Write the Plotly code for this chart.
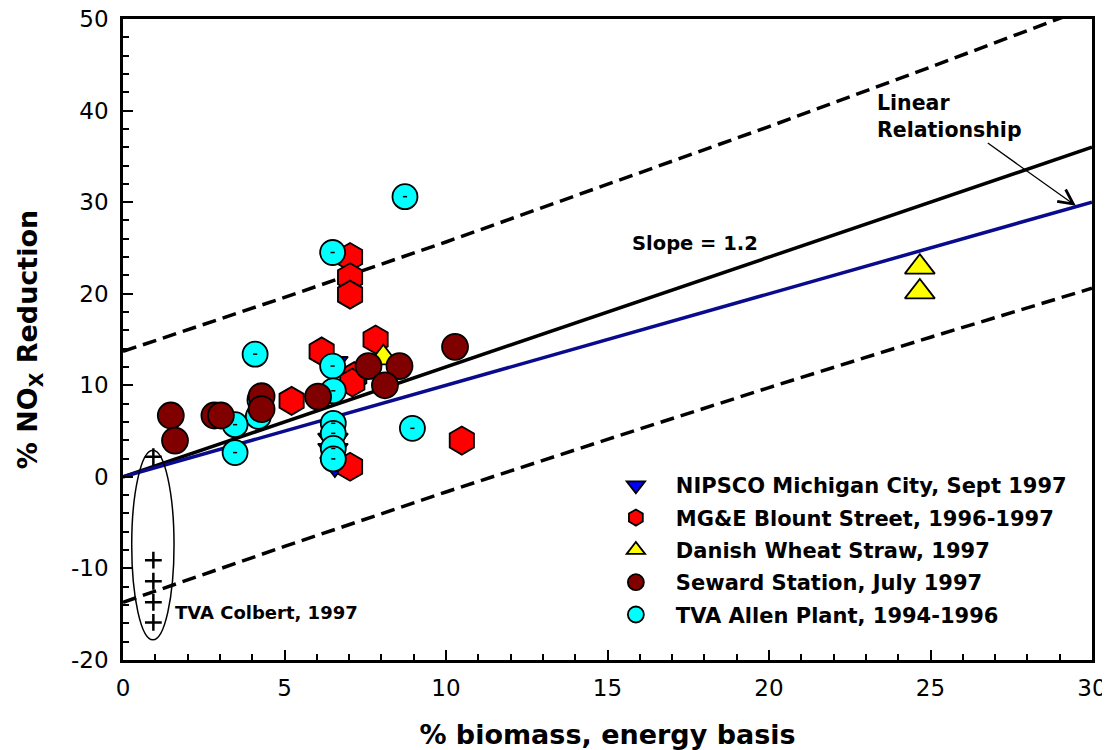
import plotly.graph_objects as go

# ---------------- data ----------------
nipsco_x = [6.50, 6.50, 6.50, 6.56]
nipsco_y = [12.4, 4.0, 2.9, 1.4]

mge_x = [7.03, 7.03, 7.03, 6.15, 7.82, 7.16, 7.10, 5.22, 10.49, 7.03]
mge_y = [24.0, 21.8, 19.9, 13.7, 15.0, 11.0, 10.3, 8.3, 3.96, 1.1]

danish_x = [24.67, 24.67, 8.06]
danish_y = [22.9, 20.2, 13.0]

seward_x = [1.48, 1.61, 2.83, 3.03, 4.29, 4.29, 6.04, 7.60, 8.56, 8.11, 10.28]
seward_y = [6.7, 3.96, 6.7, 6.7, 8.8, 7.4, 8.76, 12.1, 12.1, 10.0, 14.2]

allen_x = [8.73, 6.49, 4.09, 6.49, 6.51, 4.24, 4.19, 3.47, 3.47, 6.51, 6.51, 6.51, 6.51, 8.96]
allen_y = [30.6, 24.5, 13.4, 12.1, 9.4, 8.4, 6.6, 5.7, 2.65, 5.85, 4.75, 3.1, 1.96, 5.3]

colbert_x = [0.94, 0.94, 0.94, 0.94, 0.94]
colbert_y = [2.2, -9.1, -11.4, -13.7, -15.9]

fit_x = [0, 30]
fit_y = [0, 36]          # slope = 1.2
unity_y = [0, 30]        # linear relationship (slope 1)

band_x = [0, 5, 10, 15, 20, 25, 30]
band_upper = [13.7, 19.6, 25.65, 31.9, 38.25, 44.75, 51.4]
band_lower = [-13.7, -7.6, -1.65, 4.1, 9.75, 15.25, 20.6]

# ellipse around TVA Colbert points
ell_x = [0.27, 1.58]
ell_y = [-17.8, 2.9]

x_range = [0, 30]
y_range = [-20, 50]
x_tick_vals = [0, 5, 10, 15, 20, 25, 30]
x_tick_text = ["0", "5", "10", "15", "20", "25", "30"]
y_tick_vals = [-20, -10, 0, 10, 20, 30, 40, 50]
y_tick_text = ["-20", "-10", "0", "10", "20", "30", "40", "50"]

# ---------------- figure ----------------
FONT = "DejaVu Sans"
fig = go.Figure()

fig.add_trace(go.Scatter(x=band_x, y=band_upper, mode="lines", showlegend=False,
                         line=dict(color="black", width=3.5, dash="14px,7px")))
fig.add_trace(go.Scatter(x=band_x, y=band_lower, mode="lines", showlegend=False,
                         line=dict(color="black", width=3.5, dash="14px,7px")))
fig.add_trace(go.Scatter(x=fit_x, y=fit_y, mode="lines", showlegend=False,
                         line=dict(color="black", width=3.5)))
fig.add_trace(go.Scatter(x=fit_x, y=unity_y, mode="lines", showlegend=False,
                         line=dict(color="#0a0a8c", width=3.5)))

mline = dict(color="black", width=1.8)

fig.add_trace(go.Scatter(x=nipsco_x, y=nipsco_y, mode="markers",
                         name="NIPSCO Michigan City, Sept 1997", legendrank=1,
                         marker=dict(symbol="triangle-down", size=26, color="#0000ff", line=mline)))
fig.add_trace(go.Scatter(x=mge_x, y=mge_y, mode="markers",
                         name="MG&E Blount Street, 1996-1997", legendrank=2,
                         marker=dict(symbol="hexagon", size=28, color="#ff0000", line=mline)))
fig.add_trace(go.Scatter(x=danish_x, y=danish_y, mode="markers",
                         name="Danish Wheat Straw, 1997", legendrank=3,
                         marker=dict(symbol="triangle-up", size=26, color="#ffff00", line=mline)))
fig.add_trace(go.Scatter(x=allen_x, y=allen_y, mode="markers",
                         name="TVA Allen Plant, 1994-1996", legendrank=5,
                         marker=dict(symbol="circle", size=25, color="#00ffff", line=mline)))
fig.add_trace(go.Scatter(x=allen_x, y=allen_y, mode="markers", showlegend=False,
                         marker=dict(symbol="line-ew", size=3, color="black",
                                     line=dict(color="black", width=1.5))))
fig.add_trace(go.Scatter(x=seward_x, y=seward_y, mode="markers",
                         name="Seward Station, July 1997", legendrank=4,
                         marker=dict(symbol="circle", size=26, color="#800000", line=mline)))
fig.add_trace(go.Scatter(x=colbert_x, y=colbert_y, mode="markers", showlegend=False,
                         marker=dict(symbol="cross-thin", size=12, color="black",
                                     line=dict(color="black", width=2.5))))

fig.add_shape(type="circle", xref="x", yref="y", x0=ell_x[0], x1=ell_x[1],
              y0=ell_y[0], y1=ell_y[1], line=dict(color="black", width=1.5))

fig.add_annotation(x=17.7, y=25.5, text="Slope = 1.2", showarrow=False,
                   font=dict(family=FONT, size=19.5, color="black", weight="bold"))
fig.add_annotation(x=29.5, y=29.6, ax=25.6, ay=39.4, axref="x", ayref="y",
                   text="Linear<br>Relationship", showarrow=True, align="left",
                   arrowhead=5, arrowsize=2.2, arrowwidth=1.3, arrowcolor="black",
                   font=dict(family=FONT, size=20.5, color="black", weight="bold"))
fig.add_annotation(x=1.55, y=-14.8, text="TVA Colbert, 1997", showarrow=False,
                   xanchor="left",
                   font=dict(family=FONT, size=18, color="black", weight="bold"))

axis_common = dict(showgrid=False, zeroline=False, showline=True, linecolor="black",
                   linewidth=2.5, ticks="inside", ticklen=10, tickwidth=2,
                   tickcolor="black", mirror=True, automargin=False,
                   ticklabeloverflow="allow",
                   tickfont=dict(family=FONT, size=23, color="black"))

# the page places the figure 8px from the top-left corner (default body margin),
# so the figure is sized to fill the remaining 1102x742 of the window
fig.update_layout(
    width=1102, height=742,
    margin=dict(l=115, r=18, t=11, b=90, autoexpand=False),
    paper_bgcolor="white", plot_bgcolor="white",
    xaxis=dict(range=x_range, tickvals=x_tick_vals, ticktext=x_tick_text,
               ticklabelstandoff=6,
               minor=dict(dtick=1, ticks="inside", ticklen=6, tickwidth=2, tickcolor="black"),
               title=dict(text="% biomass, energy basis", standoff=26,
                          font=dict(family=FONT, size=27, color="black", weight="bold")),
               **axis_common),
    yaxis=dict(range=y_range, tickvals=y_tick_vals, ticktext=y_tick_text,
               ticklabelstandoff=7,
               minor=dict(dtick=2, ticks="inside", ticklen=6, tickwidth=2, tickcolor="black"),
               title=dict(text="% NO<sub>X</sub> Reduction", standoff=26,
                          font=dict(family=FONT, size=27, color="black", weight="bold")),
               **axis_common),
    xaxis2=dict(range=x_range, dtick=5, overlaying="x", side="top", anchor="y",
                showticklabels=False, ticks="inside", ticklen=10, tickwidth=2,
                tickcolor="black", showgrid=False, zeroline=False, showline=False,
                automargin=False),
    yaxis2=dict(range=y_range, dtick=10, overlaying="y", side="right", anchor="x",
                showticklabels=False, ticks="inside", ticklen=10, tickwidth=2,
                tickcolor="black", showgrid=False, zeroline=False, showline=False,
                automargin=False),
    legend=dict(x=0.488, y=0.304, xanchor="left", yanchor="top",
                bgcolor="rgba(0,0,0,0)", borderwidth=0, itemwidth=70,
                font=dict(family=FONT, size=21, color="black", weight="bold"),
                tracegroupgap=2),
    showlegend=True,
)

for tr in fig.data:
    tr.legendgroup = tr.name

fig.write_html("out.html")
